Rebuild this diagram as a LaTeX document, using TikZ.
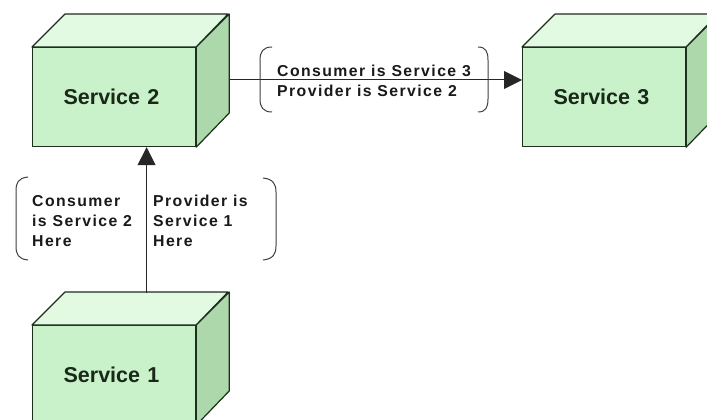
\documentclass[tikz,border=0pt]{standalone}
\usepackage{fontspec}
\setmainfont{Liberation Sans}
\newfontfamily\lblfont[LetterSpace=9]{Liberation Sans}
\usetikzlibrary{arrows.meta,calc}

\definecolor{frontgreen}{RGB}{202,242,202}
\definecolor{topgreen}{RGB}{226,249,226}
\definecolor{sidegreen}{RGB}{172,216,172}
\definecolor{edgegreen}{RGB}{28,46,28}
\definecolor{labelgreen}{RGB}{26,40,26}

% top and right faces of a cube whose front face is the node #1
\newcommand{\cubefaces}[1]{%
  \draw[cubeedge, fill=topgreen] (#1.north west) -- ++(33,-33) -- ++(163,0)
        -- (#1.north east) -- cycle;
  \draw[cubeedge, fill=sidegreen] (#1.north east) -- ++(33,-33) -- ++(0,99)
        -- (#1.south east) -- cycle;
}

\begin{document}
\begin{tikzpicture}[x=1pt, y=-1pt,
  cubeedge/.style={draw=edgegreen, line width=1.2pt, line join=round},
  front/.style={cubeedge, fill=frontgreen, anchor=north west,
    minimum width=163pt, minimum height=99pt, text width=101pt,
    inner xsep=31pt, inner ysep=0pt, align=left, text=labelgreen,
    font=\bfseries\fontsize{21.5}{24}\selectfont},
  conn/.style={draw=black!85, line width=1pt,
    -{Triangle[length=18pt, width=18pt]}},
  lbl/.style={align=left, inner sep=0pt, anchor=base west, text=black!90,
    font=\lblfont\bfseries\fontsize{15.8}{20}\selectfont},
  paren/.style={draw=black!75, line width=1pt}
]
\fill[white] (0,0) rectangle (707,420);
\clip (0,0) rectangle (707,420);

% services
\node[front] (s2) at (32,47) {Service 2};
\cubefaces{s2}
\node[front] (s3) at (522,47) {Service 3};
\cubefaces{s3}
\node[front] (s1) at (32,325) {Service 1};
\cubefaces{s1}

% connector end points on the cube faces
\coordinate (s2out) at ($(s2.north east)+(33,33)$);
\coordinate (s1in) at ($(s1.north)+(32.5,-32)$);

% connectors
\draw[conn] (s1in) -- (s1in |- s2.south);
\draw[conn] (s2out) -- (s2out -| s3.west);

% labels of the Service 2 -> Service 3 link (anchored on the last baseline)
\node[lbl] (l23) at (277,96.7) {Consumer is Service 3\\Provider is Service 2};
\draw[paren] (272,47) .. controls (263,47) and (260,52) .. (260,60)
  -- (260,99) .. controls (260,107) and (263,112) .. (272,112);
\draw[paren] (478,47) .. controls (486,47) and (488,52) .. (488,60)
  -- (488,99) .. controls (488,107) and (486,112) .. (478,112);

% labels of the Service 1 -> Service 2 link
\node[lbl] (l12c) at (32,246) {Consumer\\is Service 2\\Here};
\node[lbl] (l12p) at (153,246) {Provider is\\Service 1\\Here};
\draw[paren] (28,177) .. controls (18,178) and (16,183) .. (16,191)
  -- (16,246) .. controls (16,254) and (18,259) .. (28,260);
\draw[paren] (263,178) .. controls (273,179) and (276,184) .. (276,192)
  -- (276,246) .. controls (276,254) and (273,259) .. (263,260);
\end{tikzpicture}
\end{document}
